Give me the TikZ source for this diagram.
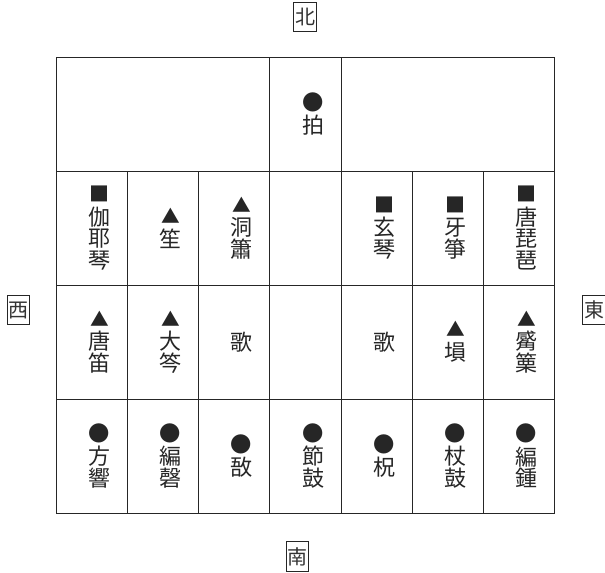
\documentclass[tikz,border=0pt]{standalone}
\usepackage{fontspec}
\newfontfamily\cjk{Noto Sans CJK JP}
\usetikzlibrary{positioning}

\tikzset{
  gridline/.style={black!85, line width=0.7pt},
  inst/.style={font=\cjk\fontsize{16.5}{16.3}\selectfont, text=black!85, align=center, inner sep=0pt},
  dirbox/.style={draw, black!85, text=black!80, line width=0.6pt, font=\cjk\fontsize{15}{15}\selectfont,
    minimum width=17pt, minimum height=22pt, inner sep=1pt},
}
% small marks above the names
\newcommand{\sqmark}{{\fontsize{15}{15}\selectfont ■}\\[1.5pt]}
\newcommand{\trimark}{{\fontsize{14}{14}\selectfont ▲}\\[1.5pt]}
\newcommand{\circmark}{{\fontsize{16}{16}\selectfont ●}\\[1.5pt]}

\begin{document}
\begin{tikzpicture}[x=0.75pt, y=-0.75pt]

\useasboundingbox (0,0) rectangle (605,572);

% Frame and rows
\draw[gridline] (56,57) rectangle (554,513);
\draw[gridline] (56,171) -- (554,171);
\draw[gridline] (56,285) -- (554,285);
\draw[gridline] (56,399) -- (554,399);

% Top cell of the beat
\draw[gridline] (269,57) -- (269,171);
\draw[gridline] (341,57) -- (341,171);

% Columns
\draw[gridline] (127,171) -- (127,513);
\draw[gridline] (198,171) -- (198,513);
\draw[gridline] (269,171) -- (269,513);
\draw[gridline] (341,171) -- (341,513);
\draw[gridline] (412,171) -- (412,513);
\draw[gridline] (483,171) -- (483,513);

% Top row
\node[inst] (bak) at (313,114) {\circmark 拍};

% Strings and winds
\node[inst] (gayageum) at (99.5,228) {\sqmark 伽\\耶\\琴};
\node[inst] (saeng) at (170.5,228) {\trimark 笙};
\node[inst] (tongso) at (241.5,228) {\trimark 洞\\簫};
\node[inst] (geomungo) at (384.5,228) {\sqmark 玄\\琴};
\node[inst] (ajaeng) at (455.5,228) {\sqmark 牙\\箏};
\node[inst] (bipa) at (526.5,228) {\sqmark 唐\\琵\\琶};

% Winds and song
\node[inst] (dangjeok) at (99.5,342) {\trimark 唐\\笛};
\node[inst] (daegeum) at (170.5,342) {\trimark 大\\笒};
\node[inst] (songW) at (241.5,342) {歌};
\node[inst] (songE) at (384.5,342) {歌};
\node[inst] (hun) at (455.5,342) {\trimark 塤};
\node[inst] (piri) at (526.5,342) {\trimark 觱\\篥};

% Percussion
\node[inst] (banghyang) at (99.5,456) {\circmark 方\\響};
\node[inst] (pyeongyeong) at (170.5,456) {\circmark 編\\磬};
\node[inst] (eo) at (241.5,456) {\circmark 敔};
\node[inst] (jeolgo) at (313,456) {\circmark 節\\鼓};
\node[inst] (chuk) at (384.5,456) {\circmark 柷};
\node[inst] (janggo) at (455.5,456) {\circmark 杖\\鼓};
\node[inst] (pyeonjong) at (526.5,456) {\circmark 編\\鍾};

% Directions
\node[dirbox] (north) at (305,17) {北};
\node[dirbox] (south) at (297.5,556.5) {南};
\node[dirbox] (west) at (18.5,310) {西};
\node[dirbox] (east) at (594,310) {東};

\end{tikzpicture}
\end{document}
